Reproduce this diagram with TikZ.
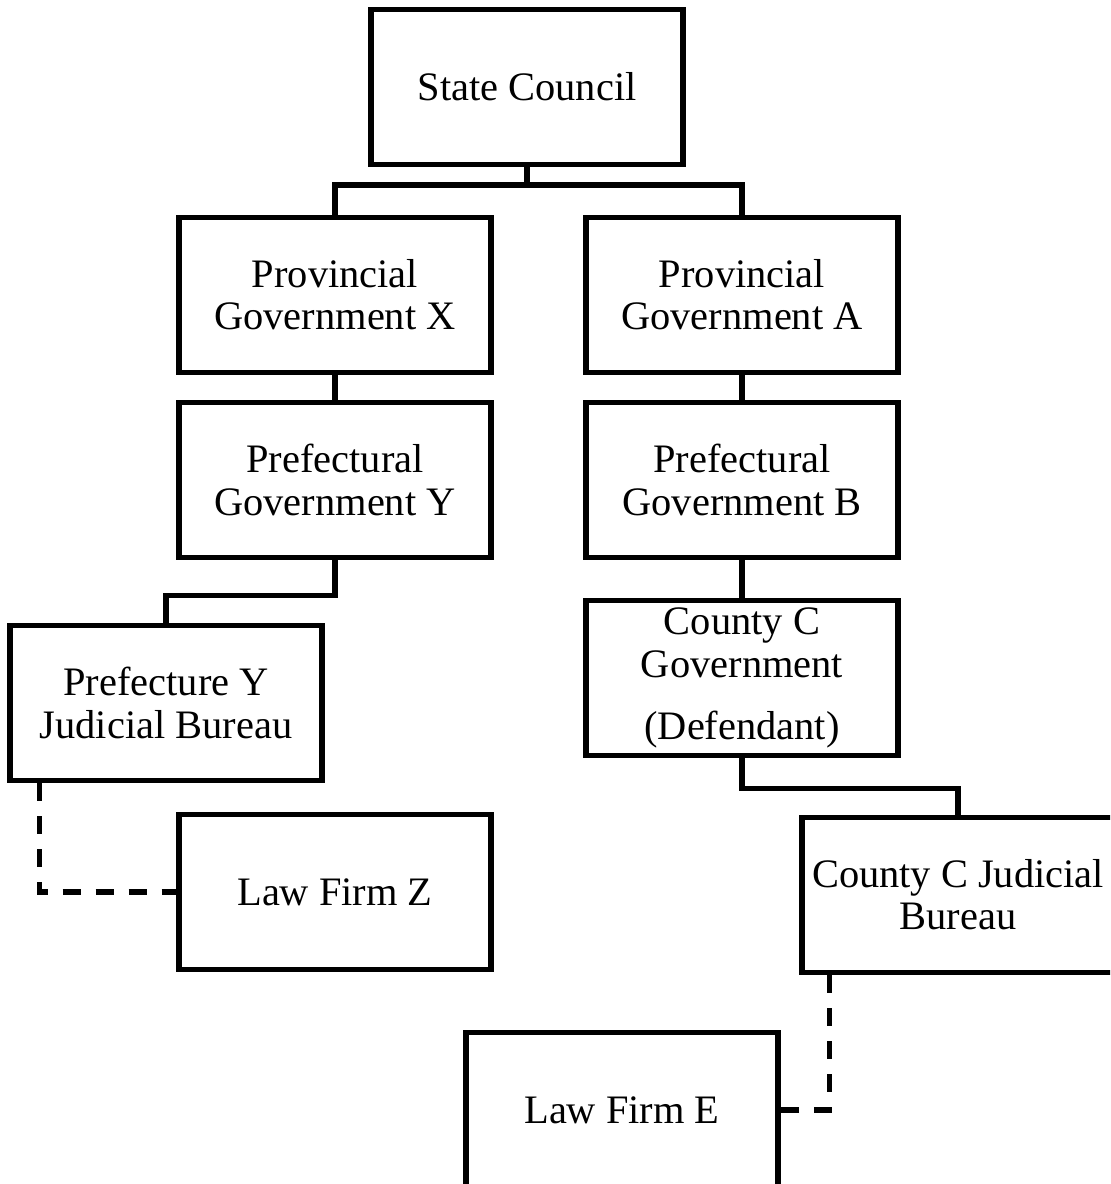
\documentclass[tikz,border=0pt]{standalone}
\usepackage{fontspec}
\setmainfont{Liberation Serif}
\usepackage{tikz}
\def\raster{0.2mm}
\tikzset{
    unit/.style={draw, line width=1.1mm, minimum width=312*\raster, minimum height=155*\raster,
        inner sep=1mm, align=center, font=\fontsize{23}{24}\selectfont},
    link/.style={line width=1.1mm},
    dashlink/.style={line width=1.1mm, dash pattern=on 3.6mm off 3mm}
}
\begin{document}
\begin{tikzpicture}[x=\raster, y=-\raster]
    \useasboundingbox (0,0) rectangle (1110,1184);
    \clip (0,0) rectangle (1110,1184);

    % boxes
    \foreach \name/\x/\y/\txt in {
        sc/527/87/{State Council},
        pgx/335/295/{Provincial\\Government X},
        pga/742/295/{Provincial\\Government A},
        pfy/335/480/{Prefectural\\Government Y},
        pfb/742/480/{Prefectural\\Government B},
        ccg/742/678/{County C\\Government\\[4mm](Defendant)},
        jby/166/703/{Prefecture Y\\Judicial Bureau},
        lfz/335/892/{Law Firm Z},
        jbc/958/895/{County C Judicial\\Bureau},
        lfe/622/1110/{Law Firm E}}{

        \node[unit] (\name) at (\x,\y) {\txt};
    }

    % solid links
    \draw[link] (sc.south) -- ++(0,18) coordinate (top) -| (pgx.north);
    \draw[link] (top) -| (pga.north);
    \draw[link] (pgx) -- (pfy);
    \draw[link] (pga) -- (pfb);
    \draw[link] (pfb) -- (ccg);
    \draw[link] (pfy.south) -- ++(0,35) -| (jby.north);
    \draw[link] (ccg.south) -- ++(0,30) -| (jbc.north);

    % dashed links to the law firms
    \draw[dashlink] ([xshift=6.4mm]jby.south west) |- (lfz.west);
    \draw[dashlink] ([xshift=6mm]jbc.south west) |- (lfe.east);
\end{tikzpicture}
\end{document}
